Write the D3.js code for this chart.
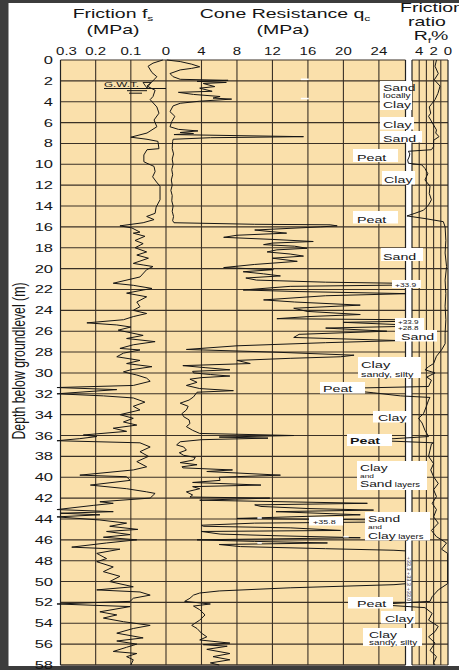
<!DOCTYPE html>
<html><head><meta charset="utf-8">
<script src="https://cdn.jsdelivr.net/npm/d3@7"></script>
<style>html,body{margin:0;padding:0;background:#fff;} svg{display:block;}</style>
</head><body>
<svg id="chart" width="459" height="670"></svg>
<script>
// ---------- DATA ----------
const depthTicks = d3.range(0, 59, 2);
const frictionTicks = [0.3, 0.2, 0.1, 0];
const coneTicks = [4, 8, 12, 16, 20, 24];
const ratioTickLabels = [4, 2, 0];
const ratioGrid = [1, 2, 3, 4];

// [depth (m), friction fs (MPa)]
const friction = [
[0.0,0.009],[0.3,0.037],[0.6,0.051],[1.2,0.040],[1.6,0.026],[2.1,0.040],[2.5,0.054],[2.9,0.031],[3.5,0.037],[3.8,0.045],
[4.5,0.026],[5.1,0.020],[5.75,0.034],[6.4,0.026],[7.0,0.054],[7.4,0.100],[7.6,0.054],[7.8,0.023],[8.5,0.020],[8.6,0.054],
[9.1,0.063],[9.75,0.063],[9.9,0.054],[10.2,0.034],[10.7,0.031],[11.2,0.038],[11.7,0.027],[12.1,0.017],[13.4,0.017],[14.1,0.028],
[14.7,0.031],[15.0,0.055],[15.3,0.034],[15.6,0.065],[15.9,0.131],[16.1,0.097],[16.5,0.074],[16.6,0.093],[16.9,0.060],[17.3,0.088],
[17.6,0.065],[18.0,0.088],[18.4,0.055],[18.7,0.083],[19.0,0.050],[19.5,0.093],[19.65,0.065],[19.8,0.037],[20.1,0.055],[20.8,0.074],
[21.4,0.150],[21.6,0.093],[21.9,0.040],[22.05,0.065],[22.35,0.112],[22.7,0.055],[23.2,0.083],[23.65,0.074],[24.0,0.093],[24.3,0.055],
[24.6,0.093],[24.9,0.121],[25.2,0.225],[25.4,0.140],[25.6,0.100],[25.9,0.136],[26.4,0.065],[26.7,0.112],[27.0,0.031],[27.3,0.093],
[27.65,0.131],[27.8,0.074],[28.1,0.121],[28.45,0.140],[28.8,0.074],[29.1,0.112],[29.4,0.040],[29.7,0.100],[29.9,0.121],[30.2,0.083],
[30.5,0.055],[30.8,0.045],[31.2,0.093],[31.4,0.31],[31.6,0.140],[32.0,0.31],[32.2,0.178],[32.4,0.093],[32.8,0.060],[33.2,0.093],
[33.55,0.074],[34.0,0.131],[34.35,0.093],[34.7,0.121],[35.0,0.083],[35.3,0.150],[35.6,0.112],[35.95,0.235],[36.1,0.197],[36.3,0.245],
[36.5,0.31],[36.7,0.074],[37.1,0.045],[37.55,0.074],[38.0,0.050],[38.5,0.083],[39.0,0.055],[39.3,0.093],[39.8,0.245],[39.95,0.112],
[40.3,0.102],[40.75,0.215],[41.1,0.112],[41.4,0.055],[41.55,0.031],[42.0,0.045],[42.35,0.188],[42.5,0.150],[42.7,0.207],[43.1,0.31],
[43.3,0.150],[43.45,0.30],[43.6,0.188],[43.8,0.31],[44.1,0.188],[44.4,0.112],[44.7,0.160],[45.0,0.080],[45.2,0.169],[45.5,0.102],
[45.75,0.178],[46.0,0.083],[46.3,0.169],[46.7,0.268],[46.9,0.131],[47.3,0.197],[47.8,0.169],[48.1,0.197],[48.6,0.150],[49.05,0.178],
[49.5,0.131],[50.0,0.160],[50.5,0.093],[50.8,0.197],[51.0,0.074],[51.3,0.045],[51.6,0.093],[51.9,0.102],[52.15,0.31],[52.4,0.102],
[52.9,0.188],[53.2,0.140],[53.5,0.178],[53.85,0.121],[54.2,0.045],[54.5,0.093],[54.95,0.140],[55.4,0.065],[55.7,0.140],[56.0,0.083],
[56.3,0.112],[56.7,0.150],[56.9,0.083],[57.2,0.112],[57.5,0.093],[58.0,0.100]
];

// [depth (m), cone resistance qc (MPa)]
const cone = [
[0.0,0.1],[0.15,1.6],[0.4,2.9],[0.65,3.8],[0.8,2.9],[0.95,1.6],[1.3,0.45],[1.6,0.8],[1.85,1.6],[1.95,7.0],[2.05,3.5],[2.15,6.8],
[2.25,4.2],[2.55,5.5],[2.7,3.8],[3.0,5.2],[3.1,1.4],[3.3,3.1],[3.5,6.1],[3.65,5.3],[3.75,7.4],[3.95,3.8],[4.15,1.6],[4.4,0.8],
[4.95,0.45],[5.4,1.0],[5.9,0.65],[6.4,0.45],[6.65,1.4],[6.8,3.6],[6.95,1.6],[7.05,3.1],[7.15,0.9],[7.25,8.0],[7.35,15.5],[7.45,5.0],
[7.6,0.8],[7.8,0.75],[8.5,0.7],[9.0,0.85],[9.5,0.7],[10.0,0.8],[10.5,0.65],[11.0,0.75],[11.5,0.6],[12.0,0.7],[12.5,0.55],[13.0,0.7],
[13.5,0.65],[14.0,0.8],[14.5,0.7],[15.0,0.85],[15.4,0.75],[15.6,0.9],[15.75,10],[15.8,18.5],[15.9,19.3],[16.0,17.4],[16.3,10.0],
[16.6,13.6],[16.8,8.0],[17.0,6.5],[17.2,12.0],[17.4,16.6],[17.55,12.0],[17.7,11.0],[17.85,14.5],[18.05,15.9],[18.2,12.5],[18.4,11.4],
[18.6,14.0],[18.8,15.5],[19.0,12.0],[19.3,14.8],[19.6,10.0],[19.9,6.5],[20.1,12.1],[20.3,8.7],[20.5,11.0],[20.7,12.9],[20.9,9.0],
[21.1,10.2],[21.3,18.0],[21.5,33.9],[21.7,14.0],[22.05,8.7],[22.2,15.0],[22.4,27.2],[22.6,18.0],[23.0,11.0],[23.2,14.5],[23.5,21.9],
[23.8,14.4],[24.1,15.9],[24.4,21.9],[24.6,16.0],[24.8,12.5],[24.95,33.9],[25.15,20.0],[25.35,25.7],[25.5,28.8],[25.7,18.0],[26.0,24.9],
[26.3,15.0],[26.6,14.4],[26.9,26.4],[27.1,18.0],[27.4,8.0],[27.75,2.3],[28.0,12.0],[28.3,21.2],[28.45,19.7],[28.6,14.0],[28.8,8.0],
[29.1,9.5],[29.3,1.9],[29.5,4.5],[29.7,7.2],[29.85,3.0],[30.0,3.1],[30.15,5.0],[30.3,7.2],[30.45,4.0],[30.6,2.7],[30.9,3.5],[31.2,2.3],
[31.5,3.8],[31.7,7.6],[31.85,3.5],[32.3,3.1],[32.6,2.6],[32.9,1.6],[33.2,2.5],[33.55,2.3],[33.9,1.8],[34.2,2.0],[34.5,2.6],[34.85,2.7],
[35.15,2.3],[35.5,3.0],[35.8,3.8],[36.0,14.4],[36.15,6.0],[36.25,11.5],[36.4,4.0],[36.6,1.6],[36.9,1.2],[37.1,2.0],[37.4,2.3],
[37.65,1.5],[37.9,2.0],[38.1,3.3],[38.35,3.1],[38.6,1.6],[38.8,3.5],[39.0,1.8],[39.1,1.9],[39.3,7.5],[39.45,4.6],[39.8,12.9],[40.0,6.0],
[40.3,6.1],[40.5,3.0],[40.75,10.7],[40.9,3.0],[41.1,3.8],[41.4,2.3],[41.7,3.0],[41.9,2.7],[42.0,11.7],[42.2,3.8],[42.5,22.7],[42.65,10.0],
[42.8,10.7],[43.0,16.0],[43.15,23.4],[43.3,12.4],[43.6,21.9],[43.95,8.0],[44.2,35.8],[44.4,10.0],[44.6,4.0],[44.7,4.2],[44.85,14.0],
[45.1,19.7],[45.2,4.0],[45.45,6.1],[45.6,12.0],[45.8,21.9],[46.0,3.5],[46.15,10.0],[46.3,18.2],[46.45,6.0],[46.65,8.4],[46.85,18.0],
[47.0,25.7],[47.2,30.0],[47.5,32.0],[48.0,34.0],[49.0,33.0],[50.0,30.0],[50.3,25.7],[50.6,14.0],[50.9,6.0],[51.1,3.8],[51.3,3.1],
[51.6,2.7],[51.9,2.1],[52.15,5.0],[52.35,3.1],[52.7,3.8],[53.2,4.4],[53.7,3.8],[54.2,2.9],[54.5,3.5],[54.95,4.0],[55.3,4.6],[55.6,3.8],
[55.9,7.2],[56.05,4.2],[56.2,6.9],[56.5,4.6],[56.9,7.2],[57.2,5.3],[57.5,7.2],[57.8,5.0],[58.0,6.0]
];

// [depth (m), friction ratio Rf (%)]
const ratio = [
[0.0,1.6],[0.6,1.8],[1.3,1.35],[1.9,1.9],[2.5,1.1],[3.2,1.4],[3.8,1.8],[4.5,2.6],[5.1,2.4],[5.4,2.7],[6.0,2.2],[6.7,1.6],[7.0,1.7],
[7.35,1.25],[7.7,2.0],[8.3,2.0],[8.6,2.3],[8.75,5.5],[9.0,5.3],[9.3,5.4],[9.6,5.6],[9.9,5.5],[10.05,3.65],[10.4,3.2],[10.9,2.8],
[11.5,3.2],[12.1,2.5],[12.8,2.6],[13.4,2.3],[13.9,2.7],[14.4,3.4],[14.7,4.6],[14.95,5.7],[15.2,3.2],[15.5,0.65],[16.0,0.4],[17.3,0.3],
[18.5,0.4],[19.8,0.2],[21.1,0.4],[22.4,0.3],[23.6,0.4],[24.9,0.3],[26.2,0.4],[27.2,0.4],[27.8,0.9],[28.4,1.6],[29.1,2.0],[29.4,2.7],
[29.7,3.2],[30.0,1.8],[30.4,2.95],[30.7,2.3],[31.3,2.7],[31.5,16],[31.9,10.4],[32.2,6.6],[32.35,2.5],[32.6,2.7],[33.2,3.0],[33.9,3.4],
[34.35,4.1],[34.8,3.6],[35.5,3.2],[36.1,2.7],[36.45,11],[36.7,2.0],[36.8,2.3],[37.4,2.5],[38.0,2.7],[38.7,2.0],[39.3,2.4],[39.95,2.0],
[40.6,1.35],[41.2,2.0],[41.85,1.6],[42.5,2.2],[43.1,1.6],[43.8,2.0],[44.4,1.35],[45.1,2.3],[45.7,1.6],[46.3,0.2],[46.9,0.9],[47.3,0.05],
[50.2,0.05],[50.8,1.35],[51.45,2.2],[51.9,2.5],[52.2,10],[52.5,3.2],[53.05,2.2],[53.7,2.7],[54.3,1.35],[54.8,1.8],[55.3,2.7],[55.9,1.8],
[56.6,2.5],[57.2,1.6],[57.8,2.0],[58.0,1.8]
];

// off-scale note in the separator strip
const offScaleNote = '+33.3 +33.3 +33.0';

// ---------- LAYOUT ----------
const SX = 1.5;
const FONT = "'Liberation Sans', Arial, Helvetica, sans-serif";
const INK = '#151515';
const TAN = '#fae0ab';
const GRID = '#3a3126';
const svg = d3.select('#chart');

const y = d3.scaleLinear().domain([0, 58]).range([60, 665]);
const xF = d3.scaleLinear().domain([0.3, 0]).range([60.5, 166]);
const xQ = d3.scaleLinear().domain([0, 27]).range([166, 405.5]);
const xR = d3.scaleLinear().domain([5, 0]).range([412, 448]);

function addText(parent, x, yy, parts, size, anchor, weight) {
  const g = parent.append('g').attr('transform', `translate(${x},${yy}) scale(${SX},1)`);
  const t = g.append('text').attr('font-size', size).attr('text-anchor', anchor || 'start')
    .attr('font-family', FONT).attr('fill', INK);
  if (weight) t.attr('font-weight', weight);
  if (typeof parts === 'string') t.text(parts);
  else parts.forEach(p => {
    const ts = t.append('tspan').text(p.t);
    if (p.s) ts.attr('font-size', p.s);
    if (p.dy) ts.attr('dy', p.dy);
  });
  return t;
}

// page frame
svg.append('rect').attr('width', 459).attr('height', 670).attr('fill', '#fff');
svg.append('rect').attr('x', 0).attr('y', 0).attr('width', 8.5).attr('height', 670).attr('fill', '#3c3c3c');
svg.append('rect').attr('x', 0).attr('y', 0).attr('width', 459).attr('height', 3).attr('fill', '#3c3c3c');
svg.append('rect').attr('x', 0).attr('y', 666).attr('width', 459).attr('height', 4).attr('fill', '#3c3c3c');

// panels
svg.append('rect').attr('x', xF(0.3)).attr('y', y(0)).attr('width', xQ(27) - xF(0.3)).attr('height', y(58) - y(0)).attr('fill', TAN);
svg.append('rect').attr('x', xR(5)).attr('y', y(0)).attr('width', xR(0) - xR(5)).attr('height', y(58) - y(0)).attr('fill', TAN);

// grid
const grid = svg.append('g').attr('stroke', GRID).attr('stroke-width', 1.1).attr('fill', 'none');
depthTicks.forEach(d => {
  grid.append('line').attr('x1', xF(0.3)).attr('x2', xQ(27)).attr('y1', y(d)).attr('y2', y(d));
  grid.append('line').attr('x1', xR(5)).attr('x2', xR(0)).attr('y1', y(d)).attr('y2', y(d));
});
grid.append('line').attr('x1', xF(0.3)).attr('x2', xQ(27)).attr('y1', y(58)).attr('y2', y(58));
[0.2, 0.1, 0].forEach(v => grid.append('line').attr('x1', xF(v)).attr('x2', xF(v)).attr('y1', y(0)).attr('y2', y(58)));
coneTicks.forEach(v => grid.append('line').attr('x1', xQ(v)).attr('x2', xQ(v)).attr('y1', y(0)).attr('y2', y(58)));
ratioGrid.forEach(v => grid.append('line').attr('x1', xR(v)).attr('x2', xR(v)).attr('y1', y(0)).attr('y2', y(58)));
// borders
const bord = svg.append('g').attr('stroke', '#222').attr('stroke-width', 1.2).attr('fill', 'none');
bord.append('line').attr('x1', xF(0.3)).attr('x2', xF(0.3)).attr('y1', y(0)).attr('y2', y(58));
bord.append('line').attr('x1', xQ(27)).attr('x2', xQ(27)).attr('y1', y(0)).attr('y2', y(58));
bord.append('line').attr('x1', xR(5)).attr('x2', xR(5)).attr('y1', y(0)).attr('y2', y(58));
bord.append('line').attr('x1', xR(0)).attr('x2', xR(0)).attr('y1', y(0)).attr('y2', y(58));

// clip for cone
svg.append('clipPath').attr('id', 'coneClip').append('rect')
  .attr('x', xQ(0)).attr('y', y(0) - 1).attr('width', xQ(27) - xQ(0)).attr('height', y(58) - y(0) + 2);

const lineF = d3.line().x(d => xF(d[1])).y(d => y(d[0]));
const lineQ = d3.line().x(d => xQ(d[1])).y(d => y(d[0]));
const lineR = d3.line().x(d => xR(d[1])).y(d => y(d[0]));

svg.append('path').datum(cone).attr('d', lineQ).attr('clip-path', 'url(#coneClip)')
  .attr('fill', 'none').attr('stroke', INK).attr('stroke-width', 1).attr('stroke-linejoin', 'round');
svg.append('path').datum(friction).attr('d', lineF)
  .attr('fill', 'none').attr('stroke', INK).attr('stroke-width', 1).attr('stroke-linejoin', 'round');
svg.append('path').datum(ratio).attr('d', lineR)
  .attr('fill', 'none').attr('stroke', INK).attr('stroke-width', 1).attr('stroke-linejoin', 'round');

// white marks in cone panel
const wm = svg.append('g').attr('stroke', '#fff').attr('stroke-width', 1.6);
[[1.85, 15.2, 16.1], [3.7, 15.2, 16.1], [43.9, 10.3, 10.8], [46.3, 10.3, 10.8], [45.7, 20.0, 20.6]].forEach(m =>
  wm.append('line').attr('x1', xQ(m[1])).attr('x2', xQ(m[2])).attr('y1', y(m[0])).attr('y2', y(m[0])));

// off-scale note (rotated, in the white strip)
svg.append('g').attr('transform', `translate(407,${y(47.6)}) rotate(90)`)
  .append('text').attr('font-family', FONT).attr('font-size', 5.2).attr('fill', '#333')
  .attr('textLength', y(51.9) - y(47.6)).attr('lengthAdjust', 'spacingAndGlyphs').text(offScaleNote);

// G.W.T.
const gwt = svg.append('g');
addText(gwt, 104, 87, 'G.W.T.', 7.8);
gwt.append('line').attr('x1', 104).attr('x2', xF(0)).attr('y1', 88.5).attr('y2', 88.5).attr('stroke', INK).attr('stroke-width', 1);
gwt.append('path').attr('d', 'M143,82.5 L151,82.5 L147,88 Z').attr('fill', 'none').attr('stroke', INK).attr('stroke-width', 0.9);
gwt.append('line').attr('x1', 127).attr('x2', 147).attr('y1', 90.7).attr('y2', 90.7).attr('stroke', INK).attr('stroke-width', 1);
gwt.append('line').attr('x1', 129).attr('x2', 142).attr('y1', 93.2).attr('y2', 93.2).attr('stroke', INK).attr('stroke-width', 1);

// soil labels
const soil = [
 {box:[380,81,412,110], lines:[{x:383,y:90.5,p:[{t:'Sand',s:9.3}]},{x:383,y:98.3,p:[{t:'locally',s:6.6}]},{x:383,y:108.3,p:[{t:'Clay',s:9.3}]}]},
 {box:[380,117,414,129.5], lines:[{x:383,y:128,p:[{t:'Clay',s:9.5}]}]},
 {box:[380,131,422,142.5], lines:[{x:383,y:141.5,p:[{t:'Sand',s:9.5}]}]},
 {box:[353,149,398,162], lines:[{x:357,y:160.5,p:[{t:'Peat',s:9.5}]}]},
 {box:[382,171,415,184.5], lines:[{x:384,y:183,p:[{t:'Clay',s:9.5}]}]},
 {box:[353,211,398,223.5], lines:[{x:357,y:222.5,p:[{t:'Peat',s:9.5}]}]},
 {box:[381,248,423,261], lines:[{x:383,y:260,p:[{t:'Sand',s:9.5}]}]},
 {box:[392,280,421,288], lines:[{x:395,y:286.7,p:[{t:'+33.9',s:5.6}]}]},
 {box:[395,318,424,330], lines:[{x:398,y:324.3,p:[{t:'+33.9',s:5.4}]},{x:398,y:329.6,p:[{t:'+28.8',s:5.4}]}]},
 {box:[395,330,437,341.5], lines:[{x:401,y:340.3,p:[{t:'Sand',s:9.5}]}]},
 {box:[358,357,421,378], lines:[{x:361,y:367.5,p:[{t:'Clay',s:9.8}]},{x:361,y:376.5,p:[{t:'sandy, silty',s:7.2}]}]},
 {box:[320,382,365,393.5], lines:[{x:323,y:392,p:[{t:'Peat',s:9.5}]}]},
 {box:[373,411,409,422.5], lines:[{x:378,y:421,p:[{t:'Clay',s:9.5}]}]},
 {box:[347,434,392,446], lines:[{x:350,y:444,p:[{t:'Peat',s:9.5}],w:'bold'}]},
 {box:[357,461,427,490], lines:[{x:360,y:470.5,p:[{t:'Clay',s:9.2}]},{x:360,y:477.7,p:[{t:'and',s:5.6}]},{x:360,y:486.8,p:[{t:'Sand',s:9.2},{t:' layers',s:6.3}]}]},
 {box:[309,517,343,525.5], lines:[{x:313,y:524.3,p:[{t:'+35.8',s:6}]}]},
 {box:[365,512,430,540.5], lines:[{x:368,y:522,p:[{t:'Sand',s:9.2}]},{x:368,y:528.9,p:[{t:'and',s:5.6}]},{x:368,y:538.5,p:[{t:'Clay',s:9.2},{t:' layers',s:6.3}]}]},
 {box:[348,597,393,608.5], lines:[{x:357,y:607,p:[{t:'Peat',s:9.5}]}]},
 {box:[381,611,415,623.5], lines:[{x:385,y:622,p:[{t:'Clay',s:9.5}]}]},
 {box:[363,628,422,646], lines:[{x:369,y:637.8,p:[{t:'Clay',s:9.3}]},{x:369,y:645,p:[{t:'sandy, silty',s:6.6}]}]}
];
const lab = svg.append('g');
soil.forEach(s => {
  lab.append('rect').attr('x', s.box[0]).attr('y', s.box[1]).attr('width', s.box[2] - s.box[0]).attr('height', s.box[3] - s.box[1]).attr('fill', '#fff');
});
soil.forEach(s => s.lines.forEach(l => addText(lab, l.x, l.y, l.p, 9.5, 'start', l.w)));

// titles
addText(svg, 113, 18, [{t:'Friction f'},{t:'s',s:8,dy:3}], 13, 'middle');
addText(svg, 113, 34, '(MPa)', 13, 'middle');
addText(svg, 285, 18, [{t:'Cone Resistance q'},{t:'c',s:8,dy:3}], 13, 'middle');
addText(svg, 283, 34, '(MPa)', 13, 'middle');
addText(svg, 432, 12, 'Friction', 13, 'middle');
addText(svg, 427, 26, 'ratio', 13, 'middle');
addText(svg, 431, 40, [{t:'R'},{t:'f',s:8,dy:3},{t:'%',dy:-3}], 13, 'middle');

// tick labels (top)
const tk = svg.append('g');
frictionTicks.forEach(v => addText(tk, xF(v) + (v === 0.3 ? 6 : 0), 55, v === 0 ? '0' : d3.format('.1f')(v), 10, 'middle'));
coneTicks.forEach(v => addText(tk, xQ(v), 55, String(v), 10, 'middle'));
ratioTickLabels.forEach(v => addText(tk, xR(v), 55, String(v), 10, 'middle'));

// depth labels
depthTicks.forEach(d => addText(tk, 53, y(d) + 4, String(d), 11, 'end'));

// y axis title
svg.append('g').attr('transform', `translate(25,361) scale(${SX},1) rotate(-90)`)
  .append('text').attr('text-anchor', 'middle').attr('font-family', FONT).attr('font-size', 12.3).attr('fill', INK)
  .text('Depth below groundlevel (m)');
</script>
</body></html>
